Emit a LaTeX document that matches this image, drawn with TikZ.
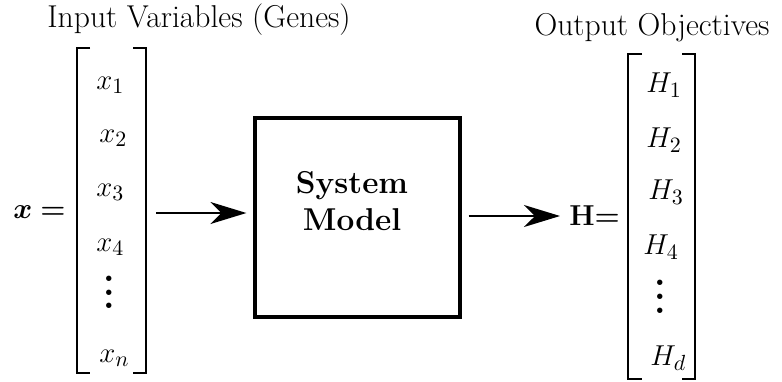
\documentclass[tikz,border=0pt]{standalone}
\usepackage{amsmath,bm}
\usetikzlibrary{arrows.meta}
\newcommand\myvdots{\vbox{\baselineskip6.9pt\lineskiplimit0pt\hbox{$\bm{.}$}\hbox{$\bm{.}$}\hbox{$\bm{.}$}}}
\begin{document}
\begin{tikzpicture}[x=0.5pt,y=-0.5pt,
  every node/.style={font=\fontsize{15.8}{19}\selectfont, inner sep=0pt},
  entry/.style={anchor=west},
  dots/.style={font=\fontsize{16.5}{19}\selectfont},
  brk/.style={line width=1.1pt},
  flow/.style={line width=0.8pt, -{Stealth[length=18pt,width=11pt,inset=5.5pt]}},
  sysbox/.style={draw, line width=1.6pt, minimum width=102.5pt, minimum height=99.5pt}]
\useasboundingbox (0,0) rectangle (782,381);
% titles
\node (tin) at (199,20) {Input Variables (Genes)};
\node (tout) at (652,28) {Output Objectives};
% left vector
\node[anchor=east] (xeq) at (66,212) {$\bm{x}\bm{=}$};
\draw[brk] (90,48) -- (77,48) -- (77,373) -- (90,373);
\draw[brk] (133,48) -- (146,48) -- (146,373) -- (133,373);
\node[entry] (x1) at (96,85) {$x_1$};
\node[entry] (x2) at (99,138) {$x_2$};
\node[entry] (x3) at (96,192) {$x_3$};
\node[entry] (x4) at (96,247) {$x_4$};
\node[dots] (xd) at (109,292.5) {\myvdots};
\node[entry] (xn) at (99,358) {$x_n$};
% system box
\node[sysbox] (sys) at (357.5,217.5) {};
\node[align=center, font=\fontsize{15.8}{18.5}\selectfont\bfseries] (syslbl) at (352,201) {System\\Model};
\coordinate (a1s) at (156,213);
\draw[flow, shorten >=3.5pt] (a1s) -- (sys.west |- a1s);
% right vector
\node[anchor=west] (Heq) at (569,216) {$\mathbf{H}{\bm{=}}$};
\draw[flow, shorten <=3.5pt] (sys.east |- Heq.west) -- ([xshift=-4.5pt]Heq.west);
\draw[brk] (642,54) -- (628,54) -- (628,379) -- (642,379);
\draw[brk] (682,54) -- (695,54) -- (695,379) -- (682,379);
\node[entry] (h1) at (646,85) {$H_1$};
\node[entry] (h2) at (646,140) {$H_2$};
\node[entry] (h3) at (648,192) {$H_3$};
\node[entry] (h4) at (643,247) {$H_4$};
\node[dots] (hd) at (660,297) {\myvdots};
\node[entry] (hn) at (650,358) {$H_d$};
\end{tikzpicture}
\end{document}
